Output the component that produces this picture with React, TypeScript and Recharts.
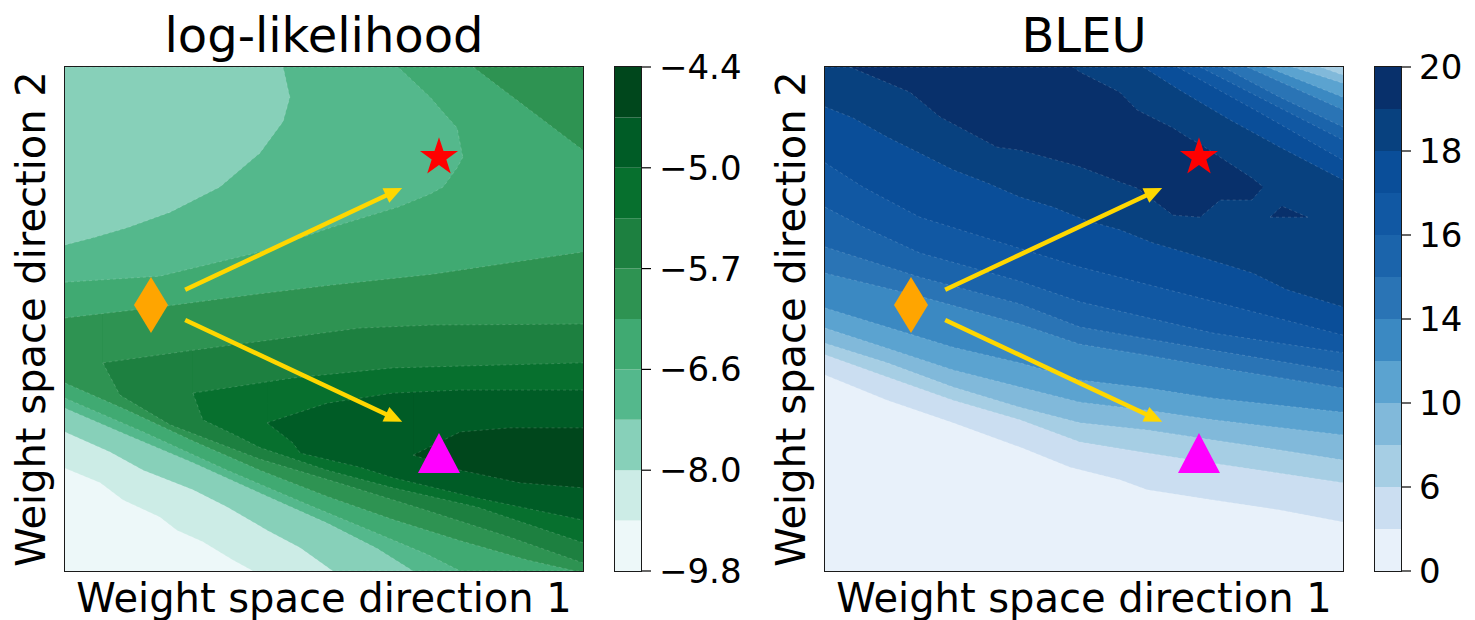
import { Area, Bar, BarChart, ComposedChart, ReferenceDot, ReferenceLine, XAxis, YAxis } from 'recharts';

type Pt = [number, number, number]; // x, lower edge, upper edge (axes run 0..1)
type Region = [Pt[], number]; // points, colour band

const FONT = 'DejaVu Sans';
const GOLD = '#FFD700';

// colour bands, lowest level first
const llColors = ['#EDF8F9', '#CCECE6', '#87D0B9', '#54B88C', '#40AA72', '#2E9352', '#1D8040', '#07702E', '#005C26', '#00471C'];
const llTicks = ['−9.8', '−8.0', '−6.6', '−5.7', '−5.0', '−4.4'];
const bleuColors = ['#E8F1FA', '#CBDEF1', '#A6CEE4', '#81B9DA', '#5BA3D0', '#3B89C2', '#2A74B5', '#1B64AB', '#1158A3', '#0A4E99', '#08417F', '#08306B'];
const bleuTicks = ['0', '6', '10', '14', '16', '18', '20'];

// markers and arrows (same spot on both panels)
const diamondPt = { x: 0.166, y: 0.528 };
const starPt = { x: 0.722, y: 0.821 };
const trianglePt = { x: 0.722, y: 0.234 };
const arrowUp = [{ x: 0.232, y: 0.558 }, { x: 0.651, y: 0.76 }];
const arrowDown = [{ x: 0.232, y: 0.498 }, { x: 0.651, y: 0.296 }];

// ---- log-likelihood contours ----
const llBg: Pt[] = [[0, 0, 1], [1, 0, 1]];
const llGe2: Pt[] = [[0, 0.204, 1], [0.068, 0.175, 1], [0.112, 0.141, 1], [0.183, 0.107, 1], [0.216, 0.081, 1], [0.266, 0.058, 1], [0.324, 0.022, 1], [0.363, 0, 1], [1, 0, 1]];
const llGe3: Pt[] = [[0, 0.276, 1], [0.087, 0.236, 1], [0.151, 0.2, 1], [0.247, 0.161, 1], [0.313, 0.127, 1], [0.39, 0.081, 1], [0.454, 0.046, 1], [0.517, 0, 1], [1, 0, 1]];
const llGe4: Pt[] = [[0, 0.323, 1], [0.12, 0.27, 1], [0.247, 0.215, 1], [0.376, 0.155, 1], [0.506, 0.095, 1], [0.602, 0.045, 1], [0.672, 0, 1], [1, 0, 1]];
const llGe5: Pt[] = [[0, 0.343, 1], [0.151, 0.276, 1], [0.313, 0.2, 1], [0.473, 0.13, 1], [0.602, 0.075, 1], [0.699, 0.033, 1], [0.763, 0, 1], [1, 0, 1]];
const llGe6: Pt[] = [[0, 0.373, 1], [0.12, 0.319, 1], [0.247, 0.258, 1], [0.376, 0.2, 1], [0.506, 0.148, 1], [0.633, 0.102, 1], [0.763, 0.06, 1], [0.892, 0.022, 1], [0.985, 0, 1], [1, 0, 1]];
const llGe7: Pt[] = [[0.073, 0.413, 1], [0.106, 0.349, 1], [0.203, 0.29, 1], [0.376, 0.222, 1], [0.537, 0.172, 1], [0.699, 0.12, 1], [0.859, 0.067, 1], [1, 0.016, 1]];
const llGe8: Pt[] = [[0.247, 0.353, 1], [0.266, 0.3, 1], [0.324, 0.272, 1], [0.376, 0.245, 1], [0.506, 0.2, 1], [0.633, 0.165, 1], [0.795, 0.127, 1], [1, 0.056, 1]];
const llGe9: Pt[] = [[0.39, 0.294, 1], [0.44, 0.254, 1], [0.454, 0.234, 1], [0.569, 0.206, 1], [0.633, 0.185, 1], [0.795, 0.145, 1], [1, 0.101, 1]];
const llGe10: Pt[] = [[0.672, 0.23, 1], [0.763, 0.2, 1], [0.878, 0.175, 1], [1, 0.165, 1]];
const llTop9: Pt[] = [[0.672, 0.23, 1], [0.763, 0.276, 1], [0.859, 0.284, 1], [1, 0.284, 1]];
const llTop8: Pt[] = [[0.39, 0.294, 1], [0.506, 0.333, 1], [0.633, 0.353, 1], [0.763, 0.359, 1], [1, 0.359, 1]];
const llTop7: Pt[] = [[0.247, 0.353, 1], [0.44, 0.383, 1], [0.633, 0.403, 1], [1, 0.413, 1]];
const llTop6: Pt[] = [[0.073, 0.413, 1], [0.247, 0.438, 1], [0.569, 0.482, 1], [0.71, 0.488, 1], [1, 0.49, 1]];
const llTop5: Pt[] = [[0, 0.502, 1], [0.183, 0.524, 1], [0.376, 0.55, 1], [0.512, 0.567, 1], [0.71, 0.589, 1], [1, 0.633, 1]];
const llCorner6: Pt[] = [[0.788, 1, 1], [0.865, 0.94, 1], [1, 0.835, 1]];
const llPatch4: Pt[] = [[0, 0.573, 1], [0.183, 0.585, 1], [0.376, 0.633, 1], [0.512, 0.681, 1], [0.643, 0.722, 1], [0.705, 0.748, 0.94], [0.73, 0.762, 0.91], [0.757, 0.8, 0.879], [0.768, 0.821, 0.821]];
const llPatch3: Pt[] = [[0, 0.647, 1], [0.054, 0.661, 1], [0.12, 0.681, 1], [0.203, 0.712, 1], [0.299, 0.762, 1], [0.376, 0.829, 1], [0.421, 0.892, 1], [0.434, 0.94, 0.94]];

const llRegions: Region[] = [
  [llBg, 0], [llGe2, 1], [llGe3, 2], [llGe4, 3], [llGe5, 4], [llGe6, 5], [llGe7, 6], [llGe8, 7], [llGe9, 8], [llGe10, 9],
  [llTop9, 8], [llTop8, 7], [llTop7, 6], [llTop6, 5], [llTop5, 4], [llCorner6, 5], [llPatch4, 3], [llPatch3, 2],
];

// ---- BLEU contours ----
const bBg: Pt[] = [[0, 0, 1], [1, 0, 1]];
const bGe2: Pt[] = [[0, 0.389, 1], [0.12, 0.339, 1], [0.247, 0.294, 1], [0.376, 0.246, 1], [0.473, 0.206, 1], [0.569, 0.181, 1], [0.622, 0.161, 1], [0.749, 0.141, 1], [0.878, 0.121, 1], [1, 0.097, 1]];
const bGe3: Pt[] = [[0, 0.429, 1], [0.12, 0.385, 1], [0.247, 0.339, 1], [0.376, 0.3, 1], [0.492, 0.256, 1], [0.622, 0.234, 1], [0.749, 0.214, 1], [0.878, 0.194, 1], [1, 0.175, 1]];
const bGe4: Pt[] = [[0, 0.452, 1], [0.12, 0.413, 1], [0.247, 0.365, 1], [0.376, 0.325, 1], [0.492, 0.294, 1], [0.622, 0.28, 1], [0.749, 0.26, 1], [0.878, 0.24, 1], [1, 0.22, 1]];
const bGe5: Pt[] = [[0, 0.482, 1], [0.12, 0.442, 1], [0.247, 0.399, 1], [0.376, 0.365, 1], [0.492, 0.335, 1], [0.622, 0.319, 1], [0.749, 0.3, 1], [1, 0.27, 1]];
const bGe6: Pt[] = [[0, 0.522, 1], [0.12, 0.484, 1], [0.247, 0.444, 1], [0.376, 0.413, 1], [0.492, 0.379, 1], [0.622, 0.363, 1], [0.749, 0.343, 1], [1, 0.315, 1]];
const bGe7: Pt[] = [[0, 0.591, 1], [0.183, 0.545, 1], [0.376, 0.49, 1], [0.492, 0.45, 1], [0.622, 0.428, 1], [0.749, 0.405, 1], [1, 0.363, 1]];
const bGe8: Pt[] = [[0, 0.643, 1], [0.183, 0.583, 1], [0.376, 0.53, 1], [0.492, 0.484, 1], [0.749, 0.438, 1], [1, 0.395, 1]];
const bGe9: Pt[] = [[0, 0.722, 1], [0.073, 0.683, 1], [0.183, 0.631, 1], [0.376, 0.575, 1], [0.492, 0.534, 1], [0.749, 0.472, 1], [1, 0.433, 1]];
const bGe10: Pt[] = [[0, 0.81, 1], [0.073, 0.762, 1], [0.183, 0.702, 1], [0.376, 0.64, 1], [0.492, 0.603, 1], [0.749, 0.535, 1], [1, 0.468, 1]];
const bGe11: Pt[] = [[0, 0.921, 1], [0.054, 0.899, 1], [0.12, 0.861, 1], [0.183, 0.829, 1], [0.247, 0.796, 1], [0.313, 0.77, 1], [0.376, 0.742, 1], [0.44, 0.722, 1], [0.506, 0.695, 1], [0.569, 0.677, 1], [0.633, 0.651, 1], [0.699, 0.631, 1], [0.763, 0.611, 1], [0.826, 0.591, 1], [0.892, 0.558, 1], [1, 0.524, 1]];
const bCorner10: Pt[] = [[0.614, 1, 1], [0.685, 0.954, 1], [0.782, 0.895, 1], [0.878, 0.841, 1], [1, 0.776, 1]];
const bCorner9: Pt[] = [[0.68, 1, 1], [0.84, 0.909, 1], [1, 0.815, 1]];
const bCorner8: Pt[] = [[0.724, 1, 1], [0.859, 0.929, 1], [1, 0.855, 1]];
const bCorner7: Pt[] = [[0.768, 1, 1], [0.878, 0.94, 1], [1, 0.881, 1]];
const bCorner6: Pt[] = [[0.815, 1, 1], [1, 0.915, 1]];
const bCorner5: Pt[] = [[0.853, 1, 1], [1, 0.94, 1]];
const bCorner4: Pt[] = [[0.903, 1, 1], [1, 0.968, 1]];
const bCorner3: Pt[] = [[0.956, 1, 1], [1, 0.984, 1]];
const bPeak: Pt[] = [[0.048, 1, 1], [0.164, 0.95, 1], [0.222, 0.901, 1], [0.332, 0.841, 1], [0.376, 0.835, 1], [0.479, 0.806, 1], [0.492, 0.802, 0.99], [0.569, 0.772, 0.95], [0.602, 0.76, 0.915], [0.633, 0.736, 0.899], [0.672, 0.706, 0.879], [0.699, 0.704, 0.861], [0.724, 0.702, 0.847], [0.763, 0.736, 0.821], [0.824, 0.736, 0.78], [0.846, 0.762, 0.762]];
const bIsland: Pt[] = [[0.859, 0.702, 0.702], [0.882, 0.702, 0.724], [0.932, 0.702, 0.702]];

const bleuRegions: Region[] = [
  [bBg, 0], [bGe2, 1], [bGe3, 2], [bGe4, 3], [bGe5, 4], [bGe6, 5], [bGe7, 6], [bGe8, 7], [bGe9, 8], [bGe10, 9], [bGe11, 10],
  [bCorner10, 9], [bCorner9, 8], [bCorner8, 7], [bCorner7, 6], [bCorner6, 5], [bCorner5, 4], [bCorner4, 3], [bCorner3, 2],
  [bPeak, 11], [bIsland, 11],
];

function buildRows(regions: Region[]) {
  const rows = new Map<number, Record<string, any>>();
  regions.forEach(([pts], i) => {
    pts.forEach(([x, lo, hi]) => {
      if (!rows.has(x)) rows.set(x, { x });
      rows.get(x)![`r${i}`] = [lo, hi];
    });
  });
  return Array.from(rows.values()).sort((a, b) => a.x - b.x);
}

const llRows = buildRows(llRegions);
const bleuRows = buildRows(bleuRegions);
const rangeKeys = Array.from({ length: 30 }, (_, i) => (d: any) => d[`r${i}`] ?? [null, null]);

const Star = ({ cx, cy }: any) => {
  const pts: string[] = [];
  for (let k = 0; k < 10; k++) {
    const r = k % 2 === 0 ? 20 : 7.7;
    const a = -Math.PI / 2 + (k * Math.PI) / 5;
    pts.push(`${cx + r * Math.cos(a)},${cy + r * Math.sin(a)}`);
  }
  return <polygon points={pts.join(' ')} fill="#FF0000" />;
};
const Diamond = ({ cx, cy }: any) => (
  <polygon points={`${cx},${cy - 28} ${cx + 17},${cy} ${cx},${cy + 28} ${cx - 17},${cy}`} fill="#FFA500" />
);
const Triangle = ({ cx, cy }: any) => (
  <polygon points={`${cx},${cy - 20} ${cx + 21},${cy + 20} ${cx - 21},${cy + 20}`} fill="#FF00FF" />
);
const Arrow = ({ x1, y1, x2, y2 }: any) => {
  const len = Math.hypot(x2 - x1, y2 - y1);
  const ux = (x2 - x1) / len;
  const uy = (y2 - y1) / len;
  const hl = 18;
  const hw = 8;
  const bx = x2 - ux * hl;
  const by = y2 - uy * hl;
  return (
    <g>
      <line x1={x1} y1={y1} x2={x2 - ux * hl * 0.7} y2={y2 - uy * hl * 0.7} stroke={GOLD} strokeWidth={4.5} />
      <polygon points={`${x2},${y2} ${bx - uy * hw},${by + ux * hw} ${bx + uy * hw},${by - ux * hw}`} fill={GOLD} />
    </g>
  );
};

function ContourPanel({ left, rows, regions, colors }: { left: number; rows: any[]; regions: Region[]; colors: string[] }) {
  return (
    <div style={{ position: 'absolute', left, top: 67, width: 518, height: 504 }}>
      <ComposedChart width={518} height={504} data={rows} margin={{ top: 0, right: 0, bottom: 0, left: 0 }}>
        <XAxis type="number" dataKey="x" domain={[0, 1]} hide />
        <YAxis type="number" domain={[0, 1]} hide />
        {regions.map(([, band], i) => (
          <Area
            key={i}
            type="linear"
            dataKey={rangeKeys[i]}
            fill={colors[band]}
            fillOpacity={1}
            stroke="rgba(255,255,255,0.2)"
            strokeWidth={0.8}
            strokeDasharray="3 3"
            connectNulls
            dot={false}
            activeDot={false}
            isAnimationActive={false}
          />
        ))}
        <ReferenceLine segment={arrowUp} shape={Arrow} />
        <ReferenceLine segment={arrowDown} shape={Arrow} />
        <ReferenceDot x={diamondPt.x} y={diamondPt.y} r={1} shape={Diamond} />
        <ReferenceDot x={starPt.x} y={starPt.y} r={1} shape={Star} />
        <ReferenceDot x={trianglePt.x} y={trianglePt.y} r={1} shape={Triangle} />
      </ComposedChart>
      <div
        style={{
          position: 'absolute', left: -1, top: -1, width: 520, height: 506,
          border: '1.5px solid #1a1a1a', boxSizing: 'border-box', pointerEvents: 'none',
        }}
      />
    </div>
  );
}

const llFormat = (v: number) => llTicks[v / 2] ?? '';
const bleuFormat = (v: number) => bleuTicks[v / 2] ?? '';

function Colorbar({ left, colors, ticks, format }: { left: number; colors: string[]; ticks: string[]; format: (v: number) => string }) {
  const row: Record<string, any> = { name: 'cb' };
  colors.forEach((_, i) => { row[`b${i}`] = 1; });
  const tickVals = ticks.map((_, i) => i * 2);
  return (
    <div style={{ position: 'absolute', left, top: 47 }}>
      <BarChart width={140} height={544} data={[row]} margin={{ top: 20, right: 0, bottom: 20, left: 0 }} barCategoryGap={0}>
        <XAxis dataKey="name" hide />
        <YAxis
          orientation="right"
          type="number"
          domain={[0, colors.length]}
          ticks={tickVals}
          interval={0}
          tickFormatter={format}
          width={114}
          tickSize={10}
          tickMargin={8}
          axisLine={false}
          tickLine={{ stroke: '#000', strokeWidth: 1.2 }}
          tick={{ fill: '#000', fontSize: 34, fontFamily: FONT }}
        />
        {colors.map((c, i) => (
          <Bar key={i} dataKey={`b${i}`} stackId="cb" fill={c} isAnimationActive={false} />
        ))}
      </BarChart>
      <div
        style={{
          position: 'absolute', left: -1, top: 19, width: 28, height: 506,
          border: '1.5px solid #1a1a1a', boxSizing: 'border-box', pointerEvents: 'none',
        }}
      />
    </div>
  );
}

export default function App() {
  return (
    <div style={{ position: 'absolute', left: 0, top: 0, width: 1475, height: 620, background: '#fff', fontFamily: FONT }}>
      <svg width={1475} height={620} style={{ position: 'absolute', left: 0, top: 0 }}>
        <g fontFamily={FONT} fill="#000" textAnchor="middle">
          <text x={324} y={52} fontSize={48}>log-likelihood</text>
          <text x={1084} y={52} fontSize={48}>BLEU</text>
          <text x={324} y={612} fontSize={40}>Weight space direction 1</text>
          <text x={1084} y={612} fontSize={40}>Weight space direction 1</text>
          <text transform="translate(45,319) rotate(-90)" fontSize={40}>Weight space direction 2</text>
          <text transform="translate(805,319) rotate(-90)" fontSize={40}>Weight space direction 2</text>
        </g>
      </svg>
      <ContourPanel left={65} rows={llRows} regions={llRegions} colors={llColors} />
      <Colorbar left={615} colors={llColors} ticks={llTicks} format={llFormat} />
      <ContourPanel left={825} rows={bleuRows} regions={bleuRegions} colors={bleuColors} />
      <Colorbar left={1375} colors={bleuColors} ticks={bleuTicks} format={bleuFormat} />
    </div>
  );
}
